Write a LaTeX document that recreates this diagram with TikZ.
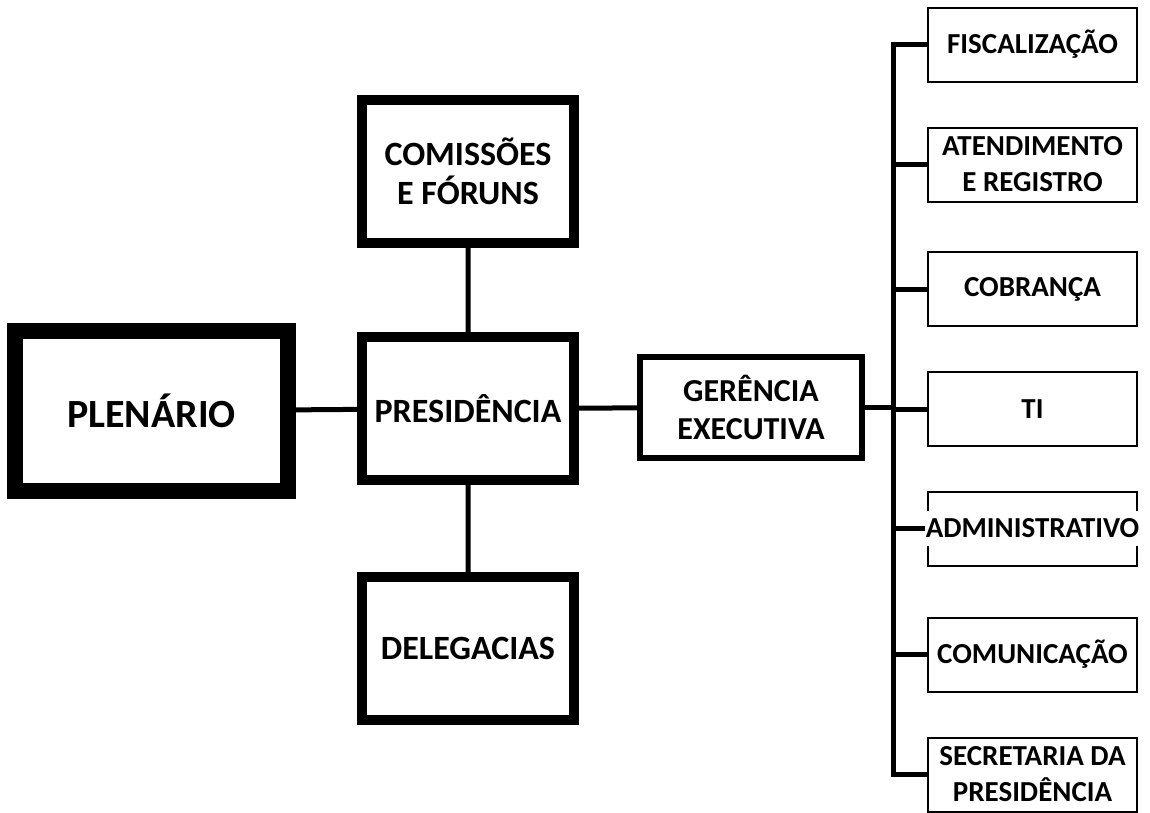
\documentclass[tikz,border=0pt]{standalone}
\usepackage{fontspec}
\setmainfont{Carlito}

\begin{document}
\begin{tikzpicture}[x=1pt,y=-1pt,
  every node/.style={align=center,font=\bfseries},
  link/.style={line width=5pt},
  plenbox/.style={draw,line width=16pt,minimum width=273pt,minimum height=160pt,font=\bfseries\fontsize{40}{44}\selectfont},
  bigbox/.style={draw,line width=10pt,minimum width=212pt,minimum height=143pt,font=\bfseries\fontsize{34}{39}\selectfont},
  gerbox/.style={draw,line width=6pt,minimum width=222pt,minimum height=101pt,font=\bfseries\fontsize{32}{38}\selectfont},
  unitbox/.style={draw,line width=2pt,inner sep=2pt,minimum width=209pt,minimum height=74pt,font=\bfseries\fontsize{29}{36}\selectfont}]
 \useasboundingbox (0,0) rectangle (1150,812);
 \node[plenbox] (plen) at (151.5,411) {PLENÁRIO};
 \node[bigbox] (pres) at (468,408.5) {PRESIDÊNCIA};
 \node[bigbox] (com) at (468,171.5) {COMISSÕES\\E FÓRUNS};
 \node[bigbox] (deleg) at (468,648.5) {DELEGACIAS};
 \node[gerbox] (ger) at (751,407.5) {GERÊNCIA\\EXECUTIVA};
 \draw[link] (plen) -- (pres) (pres) -- (com) (pres) -- (deleg) (pres) -- (ger);
 % right column
 \coordinate (bus) at (893,0);
 \foreach \nm/\yy/\txt in {fisc/44.5/FISCALIZAÇÃO, aten/164.5/{ATENDIMENTO\\E REGISTRO},
   cob/289/COBRANÇA, ti/409/TI, adm/528.5/{}, comu/654.5/COMUNICAÇÃO,
   sec/774.5/{SECRETARIA DA\\PRESIDÊNCIA}}{
   \node[unitbox] (\nm) at (1032.5,\yy) {\txt};
 }
 \draw[link] (fisc.west) -- (fisc.west -| bus) -- (sec.west -| bus) -- (sec.west);
 \foreach \nm in {aten,cob,ti,adm,comu}{\draw[link] (\nm.west -| bus) -- (\nm.west);}
 \draw[link] (ger.east) -- (ger.east -| bus);
 \node[fill=white,inner xsep=1pt,minimum height=35pt,font=\bfseries\fontsize{29}{36}\selectfont] (admtxt) at (adm) {ADMINISTRATIVO};
\end{tikzpicture}
\end{document}
